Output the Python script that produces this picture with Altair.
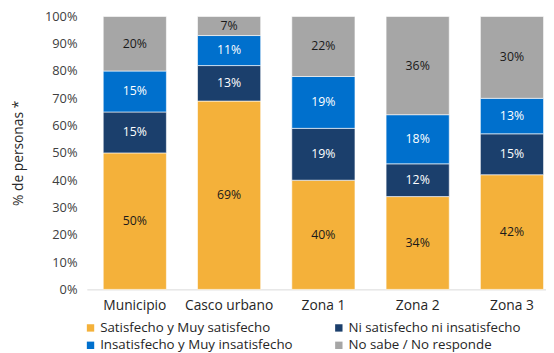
import altair as alt
import pandas as pd

zonas = ["Municipio", "Casco urbano", "Zona 1", "Zona 2", "Zona 3"]
categorias = [
    "Satisfecho y Muy satisfecho",
    "Ni satisfecho ni insatisfecho",
    "Insatisfecho y Muy insatisfecho",
    "No sabe / No responde",
]
satisfecho = [50, 69, 40, 34, 42]
ni_satisfecho = [15, 13, 19, 12, 15]
insatisfecho = [15, 11, 19, 18, 13]
no_sabe = [20, 7, 22, 36, 30]

colores = ["#F4B13A", "#1B3F6C", "#0070CD", "#A6A6A6"]
colores_texto = ["#1a1a1a", "#ffffff", "#ffffff", "#1a1a1a"]

series = [satisfecho, ni_satisfecho, insatisfecho, no_sabe]
rows = []
for ci, (cat, vals) in enumerate(zip(categorias, series)):
    for zi, z in enumerate(zonas):
        rows.append({
            "zona": z,
            "categoria": cat,
            "orden": ci,
            "valor": vals[zi],
            "lbl": f"{vals[zi]}%",
            "tc": colores_texto[ci],
        })
df = pd.DataFrame(rows)

FONT = "Open Sans"
legend_order = [categorias[0], categorias[2], categorias[1], categorias[3]]

x_scale = alt.Scale(paddingInner=0.33, paddingOuter=0.1, align=0.87)
y_scale = alt.Scale(domain=[0, 100], nice=False)

x_axis = alt.Axis(labelAngle=0, ticks=False, domainColor="#d9d9d9",
                  labelPadding=9, labelFontSize=14, labelColor="#262626",
                  labelFont=FONT)
y_axis = alt.Axis(values=list(range(0, 101, 10)), labelExpr="datum.value + '%'",
                  labelOverlap=False,
                  title="% de personas *", grid=False, domain=False, ticks=False,
                  labelPadding=10, labelFontSize=13, labelColor="#404040",
                  labelFont=FONT, titleFont=FONT, titleFontSize=14,
                  titleFontWeight="normal", titleColor="#262626", titlePadding=19)

bars = alt.Chart(df).mark_bar(stroke="white", strokeWidth=0.6).encode(
    x=alt.X("zona:N", sort=zonas, title=None, scale=x_scale, axis=x_axis),
    y=alt.Y("valor:Q", stack="zero", title="% de personas *", scale=y_scale, axis=y_axis),
    color=alt.Color(
        "categoria:N",
        scale=alt.Scale(domain=categorias, range=colores),
        legend=alt.Legend(
            title=None, orient="none", legendX=-3, legendY=309, columns=2,
            values=legend_order,
            symbolType="square", symbolSize=56, symbolStrokeWidth=0,
            labelFontSize=13.5, labelFont=FONT, labelColor="#262626",
            labelOffset=3, rowPadding=3, columnPadding=40, labelLimit=400,
        ),
    ),
    order=alt.Order("orden:Q"),
)

labels = alt.Chart(df).transform_stack(
    stack="valor", groupby=["zona"], as_=["y0", "y1"],
    sort=[alt.SortField("orden", order="ascending")],
).transform_calculate(
    mid="(datum.y0 + datum.y1) / 2"
).mark_text(fontSize=12.5, font=FONT).encode(
    x=alt.X("zona:N", sort=zonas, title=None, scale=x_scale, axis=x_axis),
    y=alt.Y("mid:Q", title="% de personas *", scale=y_scale, axis=y_axis),
    text="lbl:N",
    color=alt.Color("tc:N", scale=None),
)

chart = alt.layer(bars, labels).properties(
    width=466, height=277,
    autosize=alt.AutoSizeParams(type="none"),
    padding={"left": 80, "top": 6, "right": 0, "bottom": 62},
).configure_view(stroke=None)

chart.save("out.html", embed_options={"renderer": "svg", "actions": False})
